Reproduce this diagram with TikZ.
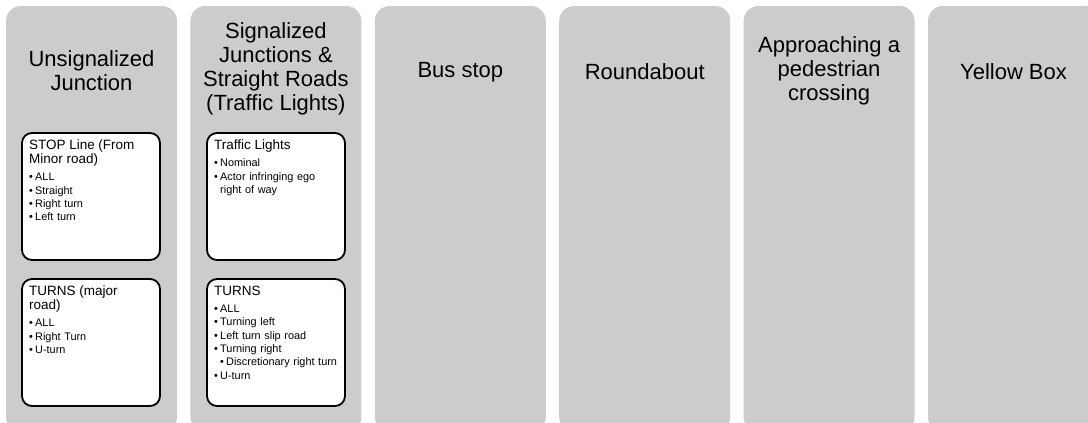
\documentclass[tikz,border=0pt]{standalone}
\usepackage{fontspec}
\setmainfont{Liberation Sans}
\definecolor{colgray}{HTML}{CCCCCC}
\setlength{\parindent}{0pt}
\newcommand{\ctitle}[1]{{\fontsize{13.5}{14}\selectfont #1\par}\vspace{3.7pt}}
\newcommand{\bl}[1]{\noindent\makebox[6pt][l]{\textbullet}#1\par}
\newcommand{\sbl}[1]{\noindent\hspace*{6pt}\makebox[6pt][l]{\textbullet}#1\par}
\tikzset{
 colbox/.style={fill=colgray, draw=none, rounded corners=15pt, minimum width=171pt, minimum height=426pt, inner sep=0pt, outer sep=0pt, anchor=north west},
 head/.style={align=center, font=\fontsize{22}{24}\selectfont, text=black, inner sep=0pt},
 card/.style={fill=white, draw=black, line width=1.8pt, rounded corners=10pt, minimum width=138pt, minimum height=127pt, anchor=north west, inner sep=0pt, outer sep=0pt},
 cardtext/.style={anchor=north west, inner sep=0pt, text width=130pt, align=left, font=\fontsize{10.9}{13.3}\selectfont},
}
\begin{document}
\begin{tikzpicture}[x=1pt,y=-1pt]
\useasboundingbox (0,0) rectangle (1088,423);
\clip (0,0) rectangle (1088,423);
% columns
\node[colbox] (c1) at (6,6) {};
\node[colbox] (c2) at (190.4,6) {};
\node[colbox] (c3) at (374.8,6) {};
\node[colbox] (c4) at (559.2,6) {};
\node[colbox] (c5) at (743.6,6) {};
\node[colbox] (c6) at (928,6) {};
% headings
\node[head] (h1) at (91.5,71) {Unsignalized\\Junction};
\node[head] (h2) at (275.9,69) {Signalized\\Junctions \&\\Straight Roads\\(Traffic Lights)};
\node[head] (h3) at (460.3,72) {Bus stop};
\node[head] (h4) at (644.7,72) {Roundabout};
\node[head] (h5) at (829.1,71) {Approaching a\\pedestrian\\crossing};
\node[head] (h6) at (1013.5,72) {Yellow Box};
% cards
\node[card] (b11) at (22,133) {};
\node[card] (b12) at (22,279) {};
\node[card] (b21) at (207,133) {};
\node[card] (b22) at (207,279) {};
% card texts
\node[cardtext] (t11) at ([shift={(7,7)}]b11.north west) {%
\ctitle{STOP Line (From\\Minor road)}%
\bl{ALL}\bl{Straight}\bl{Right turn}\bl{Left turn}};
\node[cardtext] (t12) at ([shift={(7,7)}]b12.north west) {%
\ctitle{TURNS (major\\road)}%
\bl{ALL}\bl{Right Turn}\bl{U-turn}};
\node[cardtext] (t21) at ([shift={(7,7)}]b21.north west) {%
\ctitle{Traffic Lights}%
\bl{Nominal}\bl{Actor infringing ego\newline\hspace*{6pt}right of way}};
\node[cardtext] (t22) at ([shift={(7,7)}]b22.north west) {%
\ctitle{TURNS}%
\bl{ALL}\bl{Turning left}\bl{Left turn slip road}\bl{Turning right}\sbl{Discretionary right turn}\bl{U-turn}};
\end{tikzpicture}
\end{document}
